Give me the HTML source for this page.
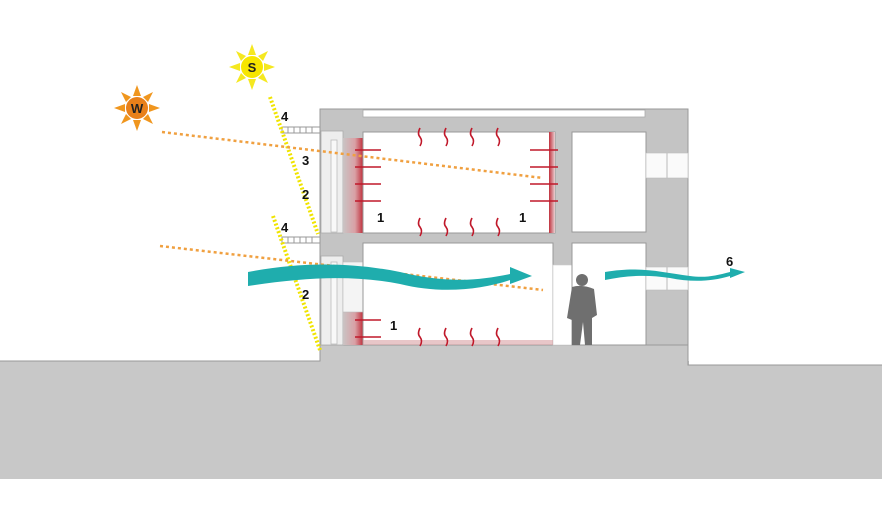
<!DOCTYPE html>
<html><head><meta charset="utf-8"><style>
html,body{margin:0;padding:0;background:#fff;}
svg{display:block;font-family:"Liberation Sans",sans-serif;font-weight:bold;}
</style></head><body>
<svg width="882" height="526" viewBox="0 0 882 526" xmlns="http://www.w3.org/2000/svg">
<defs>
<linearGradient id="rl" x1="0" x2="1"><stop offset="0" stop-color="#c9c4c4"/><stop offset="0.6" stop-color="#d9a0a5"/><stop offset="1" stop-color="#c0303c"/></linearGradient>
<linearGradient id="rr" x1="0" x2="1"><stop offset="0" stop-color="#c0303c"/><stop offset="1" stop-color="#e8d0d2"/></linearGradient>
</defs>
<!-- ground -->
<rect x="0" y="361" width="882" height="118" fill="#c8c8c8"/>
<rect x="689" y="360" width="193" height="5" fill="#fff"/>
<path d="M0 361 H320 V345 H688 V365 H882" fill="none" stroke="#999" stroke-width="1"/>
<rect x="320.5" y="345" width="367" height="20" fill="#c8c8c8"/>
<!-- building gray mass -->
<rect x="320" y="109" width="368" height="236" fill="#c4c4c4" stroke="#9a9a9a"/>
<rect x="363" y="110" width="282" height="7" fill="#fff" stroke="#aaa" stroke-width="0.8"/>
<rect x="321" y="131" width="22" height="102" fill="#eeeeee" stroke="#aaa" stroke-width="0.8"/>
<rect x="321" y="256" width="22" height="89" fill="#eeeeee" stroke="#aaa" stroke-width="0.8"/>
<rect x="331" y="140" width="6" height="92" fill="#f8f8f8" stroke="#bbb" stroke-width="0.8"/>
<rect x="331" y="262" width="6" height="82" fill="#f8f8f8" stroke="#bbb" stroke-width="0.8"/>
<rect x="343" y="138" width="20" height="95" fill="url(#rl)"/>
<rect x="343" y="312" width="20" height="33" fill="url(#rl)"/>
<rect x="343" y="262" width="20" height="50" fill="#f4f4f4" stroke="#bbb" stroke-width="0.6"/>
<rect x="363" y="132" width="192" height="101" fill="#fff" stroke="#999"/>
<rect x="549" y="132" width="6" height="101" fill="url(#rr)"/>
<rect x="572" y="132" width="74" height="100" fill="#fff" stroke="#999"/>
<rect x="363" y="243" width="190" height="102" fill="#fff" stroke="#999"/>
<rect x="553" y="265" width="19" height="80" fill="#fff" stroke="#ccc" stroke-width="0.6"/>
<rect x="572" y="243" width="74" height="102" fill="#fff" stroke="#999"/>
<rect x="363" y="340" width="190" height="5" fill="#d8a0a4" opacity="0.6"/>
<rect x="646" y="153" width="42" height="25" fill="#fafafa" stroke="#bbb" stroke-width="0.6"/>
<rect x="646" y="267" width="42" height="23" fill="#fafafa" stroke="#bbb" stroke-width="0.6"/>
<line x1="667" y1="153" x2="667" y2="178" stroke="#bbb"/><line x1="667" y1="267" x2="667" y2="290" stroke="#bbb"/>
<g fill="#fff" stroke="#999" stroke-width="1">
<rect x="282" y="127" width="38" height="6"/><rect x="282" y="237" width="38" height="6"/>
</g>
<g stroke="#999" stroke-width="1">
<path d="M288 127v6M294 127v6M300 127v6M306 127v6M312 127v6M288 237v6M294 237v6M300 237v6M306 237v6M312 237v6"/>
</g>
<g stroke="#f0e400" stroke-width="4" stroke-dasharray="2 2" fill="none">
<line x1="270" y1="97" x2="318" y2="234"/>
<line x1="273" y1="216" x2="320" y2="350"/>
</g>
<g stroke="#f0a040" stroke-width="2.5" stroke-dasharray="3 3" fill="none">
<line x1="162" y1="132" x2="543" y2="178"/>
<line x1="160" y1="246" x2="543" y2="290"/>
</g>
<g stroke="#c0182a" stroke-width="1.6" fill="none">
<path d="M420 128q-3 6 0 9q3 4 0 9M446 128q-3 6 0 9q3 4 0 9M472 128q-3 6 0 9q3 4 0 9M498 128q-3 6 0 9q3 4 0 9"/>
<path d="M420 218q-3 6 0 9q3 4 0 9M446 218q-3 6 0 9q3 4 0 9M472 218q-3 6 0 9q3 4 0 9M498 218q-3 6 0 9q3 4 0 9"/>
<path d="M420 328q-3 6 0 9q3 4 0 9M446 328q-3 6 0 9q3 4 0 9M472 328q-3 6 0 9q3 4 0 9M498 328q-3 6 0 9q3 4 0 9"/>
<path d="M355 150h26M355 167h26M355 184h26M355 201h26M355 320h26M355 337h26"/>
<path d="M530 150h28M530 167h28M530 184h28M530 201h28"/>
</g>
<path d="M248 272 C300 262 350 262 400 272 C450 284 480 280 510 274 L510 267 L532 276 L510 284 L510 280 C480 290 440 294 400 284 C350 274 300 278 248 286 Z" fill="#1fadad"/>
<path d="M605 272 C640 266 660 272 690 276 C705 278 715 276 730 272 L730 268 L745 272 L730 278 L730 276 C710 282 690 282 670 278 C645 274 625 276 605 280 Z" fill="#1fadad"/>
<g fill="#6f6f6f">
<circle cx="582" cy="280" r="6"/>
<path d="M572 287 Q582 284 594 289 L597 315 L592 318 L592 345 L585 345 L583 322 L580 345 L572 345 L572 320 L567 318 Z"/>
</g>
<g transform="translate(252,67)">
<g fill="#f5e820"><polygon points="0,-23 4,-12 -4,-12"/><polygon points="0,23 4,12 -4,12"/><polygon points="-23,0 -12,4 -12,-4"/><polygon points="23,0 12,4 12,-4"/>
<polygon points="-16,-16 -6,-11 -11,-6"/><polygon points="16,-16 6,-11 11,-6"/><polygon points="-16,16 -6,11 -11,6"/><polygon points="16,16 6,11 11,6"/></g>
<circle r="11" fill="#f7e600"/><text x="0" y="5" font-size="13" text-anchor="middle" fill="#222">S</text></g>
<g transform="translate(137,108)">
<g fill="#f0961e"><polygon points="0,-23 4,-12 -4,-12"/><polygon points="0,23 4,12 -4,12"/><polygon points="-23,0 -12,4 -12,-4"/><polygon points="23,0 12,4 12,-4"/>
<polygon points="-16,-16 -6,-11 -11,-6"/><polygon points="16,-16 6,-11 11,-6"/><polygon points="-16,16 -6,11 -11,6"/><polygon points="16,16 6,11 11,6"/></g>
<circle r="11" fill="#e8801a"/><text x="0" y="5" font-size="13" text-anchor="middle" fill="#222">W</text></g>
<g font-size="13" fill="#111">
<text x="281" y="121">4</text><text x="281" y="232">4</text>
<text x="302" y="165">3</text><text x="302" y="199">2</text><text x="302" y="299">2</text>
<text x="377" y="222">1</text><text x="519" y="222">1</text><text x="390" y="330">1</text>
<text x="726" y="266">6</text>
</g>
</svg>
</body></html>
